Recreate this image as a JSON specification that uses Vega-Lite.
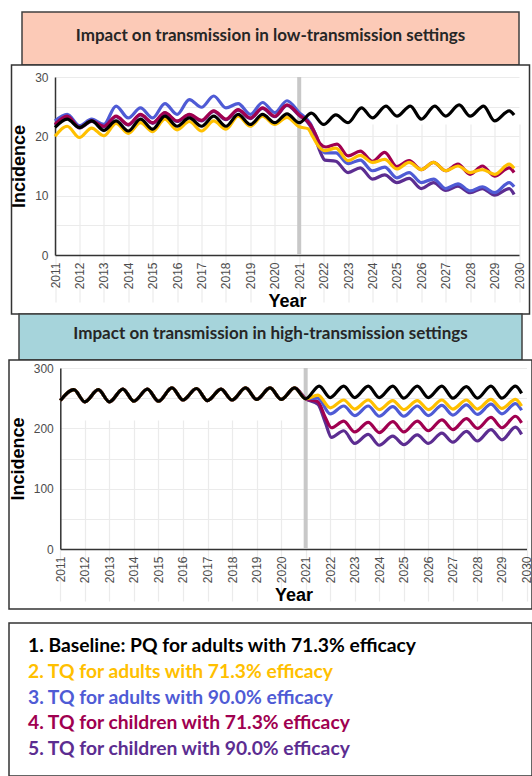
{
  "$schema": "https://vega.github.io/schema/vega-lite/v6.json",
  "padding": {"left": 8, "top": 11, "right": 0, "bottom": 0},
  "background": "white",
  "config": {"font": "Liberation Sans", "axisX": {"labelOverlap": false}},
  "datasets": {
    "legend": [
      {"s": "1", "label": "1. Baseline: PQ for adults with 71.3% efficacy"},
      {"s": "2", "label": "2. TQ for adults with 71.3% efficacy"},
      {"s": "3", "label": "3. TQ for adults with 90.0% efficacy"},
      {"s": "4", "label": "4. TQ for children with 71.3% efficacy"},
      {"s": "5", "label": "5. TQ for children with 90.0% efficacy"}
    ],
    "low": [
      {"s":"5","t":2011,"v":21.9},{"s":"5","t":2011.5,"v":23.3},{"s":"5","t":2012,"v":21.4},{"s":"5","t":2012.5,"v":22.5},{"s":"5","t":2013,"v":21.6},{"s":"5","t":2013.5,"v":23.3},{"s":"5","t":2014,"v":21.9},{"s":"5","t":2014.5,"v":23.6},{"s":"5","t":2015,"v":22.2},{"s":"5","t":2015.5,"v":23.9},{"s":"5","t":2016,"v":22.5},{"s":"5","t":2016.5,"v":23.6},{"s":"5","t":2017,"v":22.6},{"s":"5","t":2017.5,"v":24.2},{"s":"5","t":2018,"v":22.8},{"s":"5","t":2018.5,"v":24.4},{"s":"5","t":2019,"v":23.0},{"s":"5","t":2019.5,"v":24.7},{"s":"5","t":2020,"v":23.3},{"s":"5","t":2020.5,"v":25.2},{"s":"5","t":2021,"v":23.5},{"s":"5","t":2021.45,"v":21.8},{"s":"5","t":2021.65,"v":19.8},{"s":"5","t":2021.85,"v":17.5},{"s":"5","t":2022.05,"v":16.0},{"s":"5","t":2022.5,"v":15.8},{"s":"5","t":2023,"v":13.9},{"s":"5","t":2023.5,"v":14.7},{"s":"5","t":2024,"v":12.8},{"s":"5","t":2024.5,"v":13.5},{"s":"5","t":2025,"v":12.2},{"s":"5","t":2025.5,"v":12.9},{"s":"5","t":2026,"v":11.2},{"s":"5","t":2026.5,"v":12.2},{"s":"5","t":2027,"v":10.9},{"s":"5","t":2027.5,"v":11.6},{"s":"5","t":2028,"v":10.5},{"s":"5","t":2028.5,"v":11.2},{"s":"5","t":2029,"v":10.1},{"s":"5","t":2029.6,"v":11.2},{"s":"5","t":2029.8,"v":10.2},
      {"s":"3","t":2011,"v":22.6},{"s":"3","t":2011.5,"v":23.7},{"s":"3","t":2012,"v":21.8},{"s":"3","t":2012.5,"v":22.9},{"s":"3","t":2013,"v":22.0},{"s":"3","t":2013.5,"v":25.1},{"s":"3","t":2014,"v":23.1},{"s":"3","t":2014.5,"v":24.8},{"s":"3","t":2015,"v":23.1},{"s":"3","t":2015.5,"v":25.5},{"s":"3","t":2016,"v":23.7},{"s":"3","t":2016.5,"v":26.2},{"s":"3","t":2017,"v":24.9},{"s":"3","t":2017.5,"v":26.8},{"s":"3","t":2018,"v":24.8},{"s":"3","t":2018.5,"v":25.5},{"s":"3","t":2019,"v":23.7},{"s":"3","t":2019.5,"v":25.7},{"s":"3","t":2020,"v":24.0},{"s":"3","t":2020.5,"v":26.0},{"s":"3","t":2021,"v":24.0},{"s":"3","t":2021.45,"v":22.2},{"s":"3","t":2021.65,"v":20.5},{"s":"3","t":2021.85,"v":18.5},{"s":"3","t":2022.05,"v":17.2},{"s":"3","t":2022.5,"v":17.2},{"s":"3","t":2023,"v":15.4},{"s":"3","t":2023.5,"v":16.0},{"s":"3","t":2024,"v":14.2},{"s":"3","t":2024.5,"v":14.8},{"s":"3","t":2025,"v":13.0},{"s":"3","t":2025.5,"v":13.9},{"s":"3","t":2026,"v":12.2},{"s":"3","t":2026.5,"v":12.8},{"s":"3","t":2027,"v":11.2},{"s":"3","t":2027.5,"v":12.0},{"s":"3","t":2028,"v":10.8},{"s":"3","t":2028.5,"v":11.5},{"s":"3","t":2029,"v":10.5},{"s":"3","t":2029.6,"v":12.2},{"s":"3","t":2029.8,"v":11.5},
      {"s":"4","t":2011,"v":22.0},{"s":"4","t":2011.5,"v":23.4},{"s":"4","t":2012,"v":21.5},{"s":"4","t":2012.5,"v":22.6},{"s":"4","t":2013,"v":21.7},{"s":"4","t":2013.5,"v":23.4},{"s":"4","t":2014,"v":22.0},{"s":"4","t":2014.5,"v":23.7},{"s":"4","t":2015,"v":22.3},{"s":"4","t":2015.5,"v":24.0},{"s":"4","t":2016,"v":22.6},{"s":"4","t":2016.5,"v":23.7},{"s":"4","t":2017,"v":22.7},{"s":"4","t":2017.5,"v":24.3},{"s":"4","t":2018,"v":22.9},{"s":"4","t":2018.5,"v":24.5},{"s":"4","t":2019,"v":23.1},{"s":"4","t":2019.5,"v":24.8},{"s":"4","t":2020,"v":23.4},{"s":"4","t":2020.5,"v":25.3},{"s":"4","t":2021,"v":23.6},{"s":"4","t":2021.45,"v":22.0},{"s":"4","t":2021.65,"v":20.5},{"s":"4","t":2021.85,"v":18.8},{"s":"4","t":2022.1,"v":18.2},{"s":"4","t":2022.55,"v":18.7},{"s":"4","t":2023,"v":16.7},{"s":"4","t":2023.5,"v":17.5},{"s":"4","t":2024,"v":15.8},{"s":"4","t":2024.5,"v":17.3},{"s":"4","t":2025,"v":14.9},{"s":"4","t":2025.5,"v":15.9},{"s":"4","t":2026,"v":14.4},{"s":"4","t":2026.5,"v":15.6},{"s":"4","t":2027,"v":14.2},{"s":"4","t":2027.5,"v":15.3},{"s":"4","t":2028,"v":13.6},{"s":"4","t":2028.5,"v":15.0},{"s":"4","t":2029,"v":13.3},{"s":"4","t":2029.6,"v":14.7},{"s":"4","t":2029.8,"v":13.9},
      {"s":"2","t":2011,"v":20.0},{"s":"2","t":2011.5,"v":21.7},{"s":"2","t":2012,"v":19.8},{"s":"2","t":2012.5,"v":21.4},{"s":"2","t":2013,"v":20.1},{"s":"2","t":2013.5,"v":22.2},{"s":"2","t":2014,"v":20.5},{"s":"2","t":2014.5,"v":22.3},{"s":"2","t":2015,"v":20.8},{"s":"2","t":2015.5,"v":22.9},{"s":"2","t":2016,"v":21.1},{"s":"2","t":2016.5,"v":22.5},{"s":"2","t":2017,"v":20.9},{"s":"2","t":2017.5,"v":22.6},{"s":"2","t":2018,"v":21.2},{"s":"2","t":2018.5,"v":23.4},{"s":"2","t":2019,"v":21.7},{"s":"2","t":2019.5,"v":23.4},{"s":"2","t":2020,"v":22.0},{"s":"2","t":2020.5,"v":23.2},{"s":"2","t":2021,"v":21.6},{"s":"2","t":2021.35,"v":21.3},{"s":"2","t":2021.55,"v":20.0},{"s":"2","t":2021.8,"v":18.3},{"s":"2","t":2022.05,"v":17.6},{"s":"2","t":2022.5,"v":18.0},{"s":"2","t":2023,"v":15.9},{"s":"2","t":2023.5,"v":16.8},{"s":"2","t":2024,"v":15.6},{"s":"2","t":2024.5,"v":16.1},{"s":"2","t":2025,"v":14.5},{"s":"2","t":2025.5,"v":15.6},{"s":"2","t":2026,"v":14.4},{"s":"2","t":2026.5,"v":15.6},{"s":"2","t":2027,"v":14.2},{"s":"2","t":2027.5,"v":15.0},{"s":"2","t":2028,"v":13.9},{"s":"2","t":2028.5,"v":14.4},{"s":"2","t":2029,"v":13.6},{"s":"2","t":2029.6,"v":15.3},{"s":"2","t":2029.8,"v":14.6},
      {"s":"1","t":2011,"v":21.5},{"s":"1","t":2011.5,"v":22.9},{"s":"1","t":2012,"v":21.5},{"s":"1","t":2012.5,"v":22.6},{"s":"1","t":2013,"v":21.0},{"s":"1","t":2013.5,"v":22.6},{"s":"1","t":2014,"v":20.9},{"s":"1","t":2014.5,"v":22.9},{"s":"1","t":2015,"v":21.2},{"s":"1","t":2015.5,"v":23.4},{"s":"1","t":2016,"v":21.7},{"s":"1","t":2016.5,"v":23.1},{"s":"1","t":2017,"v":21.7},{"s":"1","t":2017.5,"v":23.4},{"s":"1","t":2018,"v":21.7},{"s":"1","t":2018.5,"v":23.7},{"s":"1","t":2019,"v":22.0},{"s":"1","t":2019.5,"v":23.7},{"s":"1","t":2020,"v":22.3},{"s":"1","t":2020.5,"v":23.8},{"s":"1","t":2021,"v":22.3},{"s":"1","t":2021.5,"v":23.9},{"s":"1","t":2022,"v":22.0},{"s":"1","t":2022.5,"v":23.6},{"s":"1","t":2023,"v":22.3},{"s":"1","t":2023.55,"v":24.8},{"s":"1","t":2024,"v":23.1},{"s":"1","t":2024.55,"v":25.1},{"s":"1","t":2025,"v":23.4},{"s":"1","t":2025.55,"v":25.1},{"s":"1","t":2026,"v":22.9},{"s":"1","t":2026.55,"v":25.1},{"s":"1","t":2027,"v":23.4},{"s":"1","t":2027.55,"v":25.3},{"s":"1","t":2028,"v":23.4},{"s":"1","t":2028.55,"v":25.1},{"s":"1","t":2029,"v":22.6},{"s":"1","t":2029.6,"v":24.3},{"s":"1","t":2029.8,"v":23.6}
    ],
    "high": [
      {"s":"5","t":2011,"v":246},{"s":"5","t":2011.55,"v":264},{"s":"5","t":2012,"v":244},{"s":"5","t":2012.55,"v":264},{"s":"5","t":2013,"v":244},{"s":"5","t":2013.55,"v":265},{"s":"5","t":2014,"v":245},{"s":"5","t":2014.55,"v":265},{"s":"5","t":2015,"v":245},{"s":"5","t":2015.55,"v":267},{"s":"5","t":2016,"v":247},{"s":"5","t":2016.55,"v":266},{"s":"5","t":2017,"v":246},{"s":"5","t":2017.55,"v":265},{"s":"5","t":2018,"v":247},{"s":"5","t":2018.55,"v":267},{"s":"5","t":2019,"v":248},{"s":"5","t":2019.55,"v":267},{"s":"5","t":2020,"v":248},{"s":"5","t":2020.55,"v":267},{"s":"5","t":2021,"v":249},{"s":"5","t":2021.5,"v":240},{"s":"5","t":2021.8,"v":210},{"s":"5","t":2022.05,"v":185},{"s":"5","t":2022.55,"v":196},{"s":"5","t":2023,"v":175},{"s":"5","t":2023.55,"v":190},{"s":"5","t":2024,"v":172},{"s":"5","t":2024.55,"v":187},{"s":"5","t":2025,"v":173},{"s":"5","t":2025.55,"v":189},{"s":"5","t":2026,"v":175},{"s":"5","t":2026.55,"v":192},{"s":"5","t":2027,"v":177},{"s":"5","t":2027.55,"v":195},{"s":"5","t":2028,"v":179},{"s":"5","t":2028.55,"v":198},{"s":"5","t":2029,"v":181},{"s":"5","t":2029.55,"v":202},{"s":"5","t":2029.8,"v":190},
      {"s":"4","t":2011,"v":246},{"s":"4","t":2011.55,"v":264},{"s":"4","t":2012,"v":244},{"s":"4","t":2012.55,"v":264},{"s":"4","t":2013,"v":244},{"s":"4","t":2013.55,"v":265},{"s":"4","t":2014,"v":245},{"s":"4","t":2014.55,"v":265},{"s":"4","t":2015,"v":245},{"s":"4","t":2015.55,"v":267},{"s":"4","t":2016,"v":247},{"s":"4","t":2016.55,"v":266},{"s":"4","t":2017,"v":246},{"s":"4","t":2017.55,"v":265},{"s":"4","t":2018,"v":247},{"s":"4","t":2018.55,"v":267},{"s":"4","t":2019,"v":248},{"s":"4","t":2019.55,"v":267},{"s":"4","t":2020,"v":248},{"s":"4","t":2020.55,"v":267},{"s":"4","t":2021,"v":249},{"s":"4","t":2021.5,"v":244},{"s":"4","t":2021.8,"v":218},{"s":"4","t":2022.05,"v":201},{"s":"4","t":2022.55,"v":212},{"s":"4","t":2023,"v":194},{"s":"4","t":2023.55,"v":210},{"s":"4","t":2024,"v":193},{"s":"4","t":2024.55,"v":211},{"s":"4","t":2025,"v":194},{"s":"4","t":2025.55,"v":212},{"s":"4","t":2026,"v":196},{"s":"4","t":2026.55,"v":214},{"s":"4","t":2027,"v":198},{"s":"4","t":2027.55,"v":216},{"s":"4","t":2028,"v":200},{"s":"4","t":2028.55,"v":218},{"s":"4","t":2029,"v":201},{"s":"4","t":2029.55,"v":220},{"s":"4","t":2029.8,"v":209},
      {"s":"3","t":2011,"v":246},{"s":"3","t":2011.55,"v":264},{"s":"3","t":2012,"v":244},{"s":"3","t":2012.55,"v":264},{"s":"3","t":2013,"v":244},{"s":"3","t":2013.55,"v":265},{"s":"3","t":2014,"v":245},{"s":"3","t":2014.55,"v":265},{"s":"3","t":2015,"v":245},{"s":"3","t":2015.55,"v":267},{"s":"3","t":2016,"v":247},{"s":"3","t":2016.55,"v":266},{"s":"3","t":2017,"v":246},{"s":"3","t":2017.55,"v":265},{"s":"3","t":2018,"v":247},{"s":"3","t":2018.55,"v":267},{"s":"3","t":2019,"v":248},{"s":"3","t":2019.55,"v":267},{"s":"3","t":2020,"v":248},{"s":"3","t":2020.55,"v":267},{"s":"3","t":2021,"v":249},{"s":"3","t":2021.5,"v":250},{"s":"3","t":2022,"v":224},{"s":"3","t":2022.55,"v":237},{"s":"3","t":2023,"v":221},{"s":"3","t":2023.55,"v":237},{"s":"3","t":2024,"v":220},{"s":"3","t":2024.55,"v":236},{"s":"3","t":2025,"v":220},{"s":"3","t":2025.55,"v":237},{"s":"3","t":2026,"v":221},{"s":"3","t":2026.55,"v":238},{"s":"3","t":2027,"v":222},{"s":"3","t":2027.55,"v":239},{"s":"3","t":2028,"v":223},{"s":"3","t":2028.55,"v":240},{"s":"3","t":2029,"v":224},{"s":"3","t":2029.55,"v":241},{"s":"3","t":2029.8,"v":230},
      {"s":"2","t":2011,"v":246},{"s":"2","t":2011.55,"v":264},{"s":"2","t":2012,"v":244},{"s":"2","t":2012.55,"v":264},{"s":"2","t":2013,"v":244},{"s":"2","t":2013.55,"v":265},{"s":"2","t":2014,"v":245},{"s":"2","t":2014.55,"v":265},{"s":"2","t":2015,"v":245},{"s":"2","t":2015.55,"v":267},{"s":"2","t":2016,"v":247},{"s":"2","t":2016.55,"v":266},{"s":"2","t":2017,"v":246},{"s":"2","t":2017.55,"v":265},{"s":"2","t":2018,"v":247},{"s":"2","t":2018.55,"v":267},{"s":"2","t":2019,"v":248},{"s":"2","t":2019.55,"v":267},{"s":"2","t":2020,"v":248},{"s":"2","t":2020.55,"v":267},{"s":"2","t":2021,"v":249},{"s":"2","t":2021.5,"v":255},{"s":"2","t":2022,"v":234},{"s":"2","t":2022.55,"v":247},{"s":"2","t":2023,"v":232},{"s":"2","t":2023.55,"v":247},{"s":"2","t":2024,"v":231},{"s":"2","t":2024.55,"v":246},{"s":"2","t":2025,"v":231},{"s":"2","t":2025.55,"v":246},{"s":"2","t":2026,"v":231},{"s":"2","t":2026.55,"v":247},{"s":"2","t":2027,"v":232},{"s":"2","t":2027.55,"v":247},{"s":"2","t":2028,"v":232},{"s":"2","t":2028.55,"v":248},{"s":"2","t":2029,"v":233},{"s":"2","t":2029.55,"v":248},{"s":"2","t":2029.8,"v":237},
      {"s":"1","t":2011,"v":246},{"s":"1","t":2011.55,"v":264},{"s":"1","t":2012,"v":244},{"s":"1","t":2012.55,"v":264},{"s":"1","t":2013,"v":244},{"s":"1","t":2013.55,"v":265},{"s":"1","t":2014,"v":245},{"s":"1","t":2014.55,"v":265},{"s":"1","t":2015,"v":245},{"s":"1","t":2015.55,"v":267},{"s":"1","t":2016,"v":247},{"s":"1","t":2016.55,"v":266},{"s":"1","t":2017,"v":246},{"s":"1","t":2017.55,"v":265},{"s":"1","t":2018,"v":247},{"s":"1","t":2018.55,"v":267},{"s":"1","t":2019,"v":248},{"s":"1","t":2019.55,"v":267},{"s":"1","t":2020,"v":248},{"s":"1","t":2020.55,"v":267},{"s":"1","t":2021,"v":249},{"s":"1","t":2021.55,"v":270},{"s":"1","t":2022,"v":251},{"s":"1","t":2022.55,"v":270},{"s":"1","t":2023,"v":251},{"s":"1","t":2023.55,"v":270},{"s":"1","t":2024,"v":251},{"s":"1","t":2024.55,"v":270},{"s":"1","t":2025,"v":250},{"s":"1","t":2025.55,"v":270},{"s":"1","t":2026,"v":251},{"s":"1","t":2026.55,"v":270},{"s":"1","t":2027,"v":250},{"s":"1","t":2027.55,"v":269},{"s":"1","t":2028,"v":250},{"s":"1","t":2028.55,"v":270},{"s":"1","t":2029,"v":250},{"s":"1","t":2029.55,"v":270},{"s":"1","t":2029.8,"v":258}
    ]
  },
  "vconcat": [
    {
      "width": 497, "height": 53,
      "view": {"stroke": "#404040", "strokeWidth": 1.5, "fill": "#fccab7"},
      "data": {"values": [{"title": "Impact on transmission in low-transmission settings"}]},
      "mark": {"type": "text", "font": "Lato", "fontSize": 17, "fontWeight": "bold", "color": "#262626", "dy": -3},
      "encoding": {"text": {"field": "title"}}
    },
    {
      "width": 518, "height": 249,
      "view": {"stroke": "#333333", "strokeWidth": 1.5, "fill": "white"},
      "encoding": {
        "x": {"field": "t", "type": "quantitative", "title": "Year",
          "scale": {"domain": [2011, 2030], "range": [43.5, 507.5], "nice": false, "zero": false},
          "axis": {"values": [2011,2012,2013,2014,2015,2016,2017,2018,2019,2020,2021,2022,2023,2024,2025,2026,2027,2028,2029,2030], "format": "d", "labelAngle": -90, "labelColor": "#4d4d4d", "labelFontSize": 12, "labelPadding": 7, "labelFlush": false, "labelOverlap": false, "labelSeparation": 0, "ticks": false, "domainColor": "#333333", "domainWidth": 1.5, "grid": true, "gridColor": "#ebebeb", "gridWidth": 1.2, "titleFontSize": 18, "titleFontWeight": "bold", "titleColor": "#000000", "titlePadding": 4, "offset": -59}}
      },
      "layer": [
        {
          "data": {"values": [{"t": 2021}]},
          "mark": {"type": "rule", "color": "#c8c8c8", "strokeWidth": 4},
          "encoding": {
            "y": {"datum": 0, "title": "Incidence"},
            "y2": {"datum": 30}
          }
        },
        {
          "data": {"name": "low"},
          "mark": {"type": "line", "interpolate": "monotone", "strokeWidth": 3.2},
          "encoding": {
            "y": {"field": "v", "type": "quantitative", "title": "Incidence",
              "scale": {"domain": [0, 30], "range": [190, 12], "nice": false, "zero": false},
              "axis": {"values": [0,5,10,15,20,25,30], "labelExpr": "datum.value % 10 === 0 ? datum.label : ''", "labelColor": "#4d4d4d", "labelFontSize": 12, "labelPadding": 7, "labelOverlap": false, "ticks": false, "domainColor": "#333333", "domainWidth": 1.5, "grid": true, "gridColor": "#ebebeb", "gridWidth": 1.2, "titleFontSize": 18, "titleFontWeight": "bold", "titleColor": "#000000", "titlePadding": 6, "offset": -43.5}},
            "color": {"field": "s", "type": "nominal", "sort": null,
              "scale": {"domain": ["1","2","3","4","5"], "range": ["#000000","#ffc000","#4f5bd5","#a00050","#5c2d91"]}, "legend": null}
          }
        }
      ]
    },
    {
      "width": 503, "height": 46,
      "view": {"stroke": "#404040", "strokeWidth": 1.5, "fill": "#a6d4db"},
      "data": {"values": [{"title": "Impact on transmission in high-transmission settings"}]},
      "mark": {"type": "text", "font": "Lato", "fontSize": 17, "fontWeight": "bold", "color": "#262626", "dy": -3},
      "encoding": {"text": {"field": "title"}}
    },
    {
      "width": 523, "height": 249,
      "view": {"stroke": "#333333", "strokeWidth": 1.5, "fill": "white"},
      "encoding": {
        "x": {"field": "t", "type": "quantitative", "title": "Year",
          "scale": {"domain": [2011, 2030], "range": [51.3, 517.5], "nice": false, "zero": false},
          "axis": {"values": [2011,2012,2013,2014,2015,2016,2017,2018,2019,2020,2021,2022,2023,2024,2025,2026,2027,2028,2029,2030], "format": "d", "labelAngle": -90, "labelColor": "#4d4d4d", "labelFontSize": 12, "labelPadding": 7, "labelFlush": false, "labelOverlap": false, "labelSeparation": 0, "ticks": false, "domainColor": "#333333", "domainWidth": 1.5, "grid": true, "gridColor": "#ebebeb", "gridWidth": 1.2, "titleFontSize": 18, "titleFontWeight": "bold", "titleColor": "#000000", "titlePadding": 4, "offset": -60}}
      },
      "layer": [
        {
          "data": {"values": [{"t": 2021}]},
          "mark": {"type": "rule", "color": "#c8c8c8", "strokeWidth": 4},
          "encoding": {
            "y": {"datum": 0, "title": "Incidence"},
            "y2": {"datum": 300}
          }
        },
        {
          "data": {"name": "high"},
          "mark": {"type": "line", "interpolate": "monotone", "strokeWidth": 3.2},
          "encoding": {
            "y": {"field": "v", "type": "quantitative", "title": "Incidence",
              "scale": {"domain": [0, 300], "range": [189, 8], "nice": false, "zero": false},
              "axis": {"values": [0,50,100,150,200,250,300], "labelExpr": "datum.value % 100 === 0 ? datum.label : ''", "labelColor": "#4d4d4d", "labelFontSize": 12, "labelPadding": 7, "labelOverlap": false, "ticks": false, "domainColor": "#333333", "domainWidth": 1.5, "grid": true, "gridColor": "#ebebeb", "gridWidth": 1.2, "titleFontSize": 18, "titleFontWeight": "bold", "titleColor": "#000000", "titlePadding": 6, "offset": -51.3}},
            "color": {"field": "s", "type": "nominal", "sort": null,
              "scale": {"domain": ["1","2","3","4","5"], "range": ["#000000","#ffc000","#4f5bd5","#a00050","#5c2d91"]}, "legend": null}
          }
        }
      ]
    },
    {
      "width": 1, "height": 14,
      "view": {"stroke": null, "fill": null},
      "data": {"values": []},
      "mark": "point"
    },
    {
      "width": 523, "height": 153,
      "view": {"stroke": "#333333", "strokeWidth": 1.5, "fill": "white"},
      "data": {"name": "legend"},
      "mark": {"type": "text", "align": "left", "baseline": "middle", "dx": 19, "font": "Lato", "fontSize": 19.3, "fontWeight": "bold"},
      "encoding": {
        "x": {"datum": 0, "scale": {"domain": [0, 1]}, "axis": null},
        "y": {"field": "s", "type": "nominal", "scale": {"range": [23, 126], "padding": 0}, "axis": null},
        "text": {"field": "label"},
        "color": {"field": "s", "type": "nominal",
          "scale": {"domain": ["1","2","3","4","5"], "range": ["#000000","#ffc000","#4f5bd5","#a00050","#5c2d91"]}, "legend": null}
      }
    }
  ],
  "spacing": 0,
  "bounds": "flush",
  "center": true
}
